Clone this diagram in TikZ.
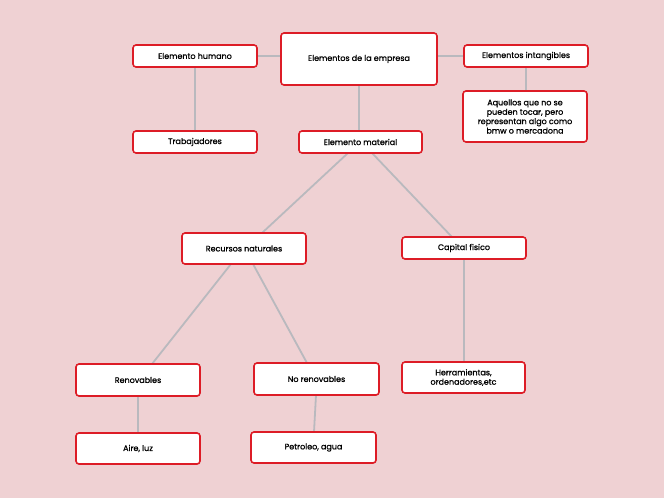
\documentclass[tikz,border=0pt]{standalone}
\usepackage{fontspec}
\setmainfont{Poppins}
\newfontfamily\boxfont[FakeBold=1.0]{Poppins}
\definecolor{bgpink}{HTML}{EFD1D3}
\definecolor{boxred}{HTML}{DD1C26}
\definecolor{linegray}{HTML}{B9B9BE}
\begin{document}
\begin{tikzpicture}[x=1pt,y=-1pt,
  box/.style={draw=boxred, line width=1.6pt, fill=white, rounded corners=3pt, inner sep=0pt, font=\boxfont\fontsize{8}{9.4}\selectfont, align=center},
  link/.style={draw=linegray, line width=1.8pt}]
\fill[bgpink] (0,0) rectangle (664,498);
\useasboundingbox (0,0) rectangle (664,498);
% connector end points
\coordinate (c1) at (257,56);
\coordinate (c2) at (281,56);
\coordinate (c3) at (437,56);
\coordinate (c4) at (464,56);
\coordinate (c5) at (195,67);
\coordinate (c6) at (195,131);
\coordinate (c7) at (359,85);
\coordinate (c8) at (359,131);
\coordinate (c9) at (526,67);
\coordinate (c10) at (526,91);
\coordinate (c11) at (348,153);
\coordinate (c12) at (262,233);
\coordinate (c13) at (372,153);
\coordinate (c14) at (452,237);
\coordinate (c15) at (231,264);
\coordinate (c16) at (152,364);
\coordinate (c17) at (253,264);
\coordinate (c18) at (307,363);
\coordinate (c19) at (464,259);
\coordinate (c20) at (464,362);
\coordinate (c21) at (138,396);
\coordinate (c22) at (138,433);
\coordinate (c23) at (316,395);
\coordinate (c24) at (314,432);
\foreach \a/\b in {c1/c2,c3/c4,c5/c6,c7/c8,c9/c10,c11/c12,c13/c14,c15/c16,c17/c18,c19/c20,c21/c22,c23/c24}
  \draw[link] (\a) -- (\b);
% boxes
\newcommand{\bx}[6]{\node[box, minimum width=#4-#2, minimum height=#5-#3] (#1) at ({(#2+#4)/2},{(#3+#5)/2}) {#6};}
\bx{humano}{133}{45}{257}{67}{Elemento humano}
\bx{empresa}{281}{33}{437}{85}{Elementos de la empresa}
\bx{intang}{464}{45}{588}{67}{Elementos intangibles}
\bx{aquellos}{463}{91}{587}{142}{Aquellos que no se\\pueden tocar, pero\\representan algo como\\bmw o mercadona}
\bx{trab}{133}{131}{257}{153}{Trabajadores}
\bx{material}{299}{131}{422}{153}{Elemento material}
\bx{recursos}{182}{233}{306}{264}{Recursos naturales}
\bx{capital}{402}{237}{526}{259}{Capital fisico}
\bx{renov}{76}{364}{200}{396}{Renovables}
\bx{norenov}{254}{363}{379}{395}{No renovables}
\bx{herram}{402}{362}{525}{393}{Herramientas,\\ordenadores,etc}
\bx{aire}{76}{433}{200}{464}{Aire, luz}
\bx{petroleo}{251}{432}{376}{463}{Petroleo, agua}
\end{tikzpicture}
\end{document}
